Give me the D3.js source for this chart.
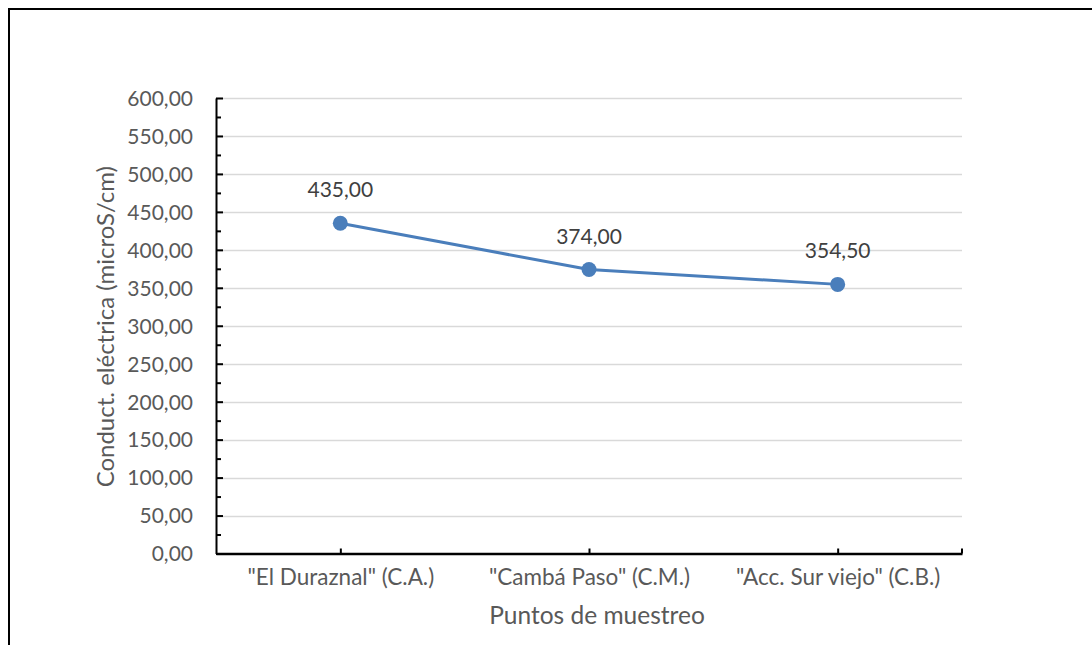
<!DOCTYPE html>
<html>
<head>
<meta charset="utf-8">
<script src="https://cdn.jsdelivr.net/npm/d3@7"></script>
<style>
  html, body { margin: 0; padding: 0; background: #fff; }
  svg { display: block; }
  text { font-family: Lato, "Open Sans", sans-serif; }
</style>
</head>
<body>
<svg id="chart" width="1092" height="645"></svg>
<script>
const categories = ['"El Duraznal" (C.A.)', '"Cambá Paso" (C.M.)', '"Acc. Sur viejo" (C.B.)'];
const values = [435.00, 374.00, 354.50];
const yTicks = [0, 50, 100, 150, 200, 250, 300, 350, 400, 450, 500, 550, 600];
const yMinorTicks = [25, 75, 125, 175, 225, 275, 325, 375, 425, 475, 525, 575];
const yTitle = "Conduct. eléctrica (microS/cm)";
const xTitle = "Puntos de muestreo";

const fmt = v => d3.format(".2f")(v).replace(".", ",");

const svg = d3.select("#chart");
const plot = { left: 216, right: 962, top: 98, bottom: 553.5 };

// outer chart border (only left and top visible in frame)
svg.append("rect")
  .attr("x", 9).attr("y", 9)
  .attr("width", 1200).attr("height", 800)
  .attr("fill", "none").attr("stroke", "#000").attr("stroke-width", 2);

const x = d3.scalePoint().domain(categories).range([plot.left, plot.right]).padding(0.5);
const y = d3.scaleLinear().domain([0, 600]).range([plot.bottom, plot.top]);

// gridlines
svg.append("g").selectAll("line")
  .data(yTicks.filter(d => d > 0))
  .join("line")
  .attr("x1", plot.left).attr("x2", plot.right)
  .attr("y1", d => Math.round(y(d)) + 0.5).attr("y2", d => Math.round(y(d)) + 0.5)
  .attr("stroke", "#d9d9d9").attr("stroke-width", 1.5);

// y axis
const yAxis = d3.axisLeft(y).tickValues(yTicks).tickSizeInner(-7).tickSizeOuter(0).tickFormat(fmt).tickPadding(23);
const gy = svg.append("g").attr("transform", `translate(${plot.left},0)`).call(yAxis);
gy.select(".domain").attr("stroke", "#000").attr("stroke-width", 2);
gy.selectAll(".tick line").attr("stroke", "#000").attr("stroke-width", 2);
gy.selectAll(".tick text")
  .attr("fill", "#595959").style("font-size", "21px").attr("dy", "0.35em");

const yMinor = d3.axisLeft(y).tickValues(yMinorTicks).tickSize(-5).tickFormat("");
const gym = svg.append("g").attr("transform", `translate(${plot.left},0)`).call(yMinor);
gym.select(".domain").remove();
gym.selectAll(".tick line").attr("stroke", "#000").attr("stroke-width", 2);

// x axis
const xAxis = d3.axisBottom(x).tickSizeInner(-5).tickSizeOuter(0).tickPadding(16);
const gx = svg.append("g").attr("transform", `translate(0,${plot.bottom})`).call(xAxis);
gx.select(".domain").attr("stroke", "#000").attr("stroke-width", 2.5);
gx.selectAll(".tick line").attr("stroke", "#000").attr("stroke-width", 2);
gx.selectAll(".tick text").attr("fill", "#595959").style("font-size", "22.5px");
// end tick at right
gx.append("line").attr("x1", plot.right).attr("x2", plot.right).attr("y1", 0).attr("y2", -5)
  .attr("stroke", "#000").attr("stroke-width", 2);

// line
const line = d3.line().x((d, i) => x(categories[i])).y(d => y(d));
svg.append("path").datum(values)
  .attr("d", line)
  .attr("fill", "none").attr("stroke", "#4a7ebb").attr("stroke-width", 3)
  .attr("stroke-linejoin", "round");

svg.append("g").selectAll("circle")
  .data(values).join("circle")
  .attr("cx", (d, i) => x(categories[i])).attr("cy", d => y(d))
  .attr("r", 7.5).attr("fill", "#4a7ebb");

// data labels
svg.append("g").selectAll("text")
  .data(values).join("text")
  .attr("x", (d, i) => x(categories[i])).attr("y", d => y(d) - 26)
  .attr("text-anchor", "middle")
  .attr("fill", "#404040").style("font-size", "21px")
  .text(d => fmt(d));

// axis titles
svg.append("text")
  .attr("transform", `translate(114,${(plot.top + plot.bottom) / 2 + 1}) rotate(-90)`)
  .attr("text-anchor", "middle")
  .attr("fill", "#595959").style("font-size", "24px")
  .text(yTitle);

svg.append("text")
  .attr("x", 597).attr("y", 624)
  .attr("text-anchor", "middle")
  .attr("fill", "#595959").style("font-size", "24.5px")
  .text(xTitle);
</script>
</body>
</html>
